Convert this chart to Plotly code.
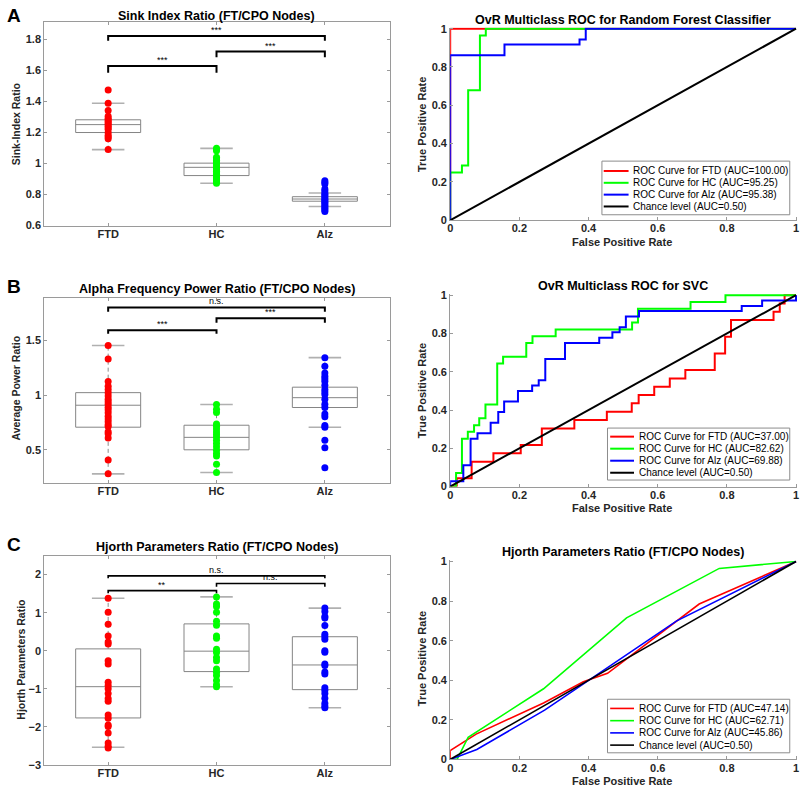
import plotly.graph_objects as go

W, H = 800, 795
FONT = "Liberation Sans, Arial, Helvetica, sans-serif"

# ---------------- data ----------------
categories = ["FTD", "HC", "Alz"]
cat_pos = [1, 2, 3]
group_colors = ["#ff0000", "#00ff00", "#0000ff"]
bracket_pairs = [(1, 2), (2, 3), (1, 3)]

# Panel A: Sink index ratio
sink_ftd = [1.472, 1.387, 1.341, 1.303, 1.29, 1.281, 1.27, 1.26, 1.25, 1.239, 1.228, 1.218,
            1.197, 1.18, 1.17, 1.159, 1.089]
sink_hc = [1.098, 1.09, 1.082, 1.04, 1.03, 1.02, 1.01, 1.0, 0.99, 0.98, 0.97, 0.96, 0.95, 0.94,
           0.93, 0.92, 0.91, 0.90, 0.89, 0.88, 0.873]
sink_alz = [0.888, 0.878, 0.868, 0.835, 0.825, 0.81, 0.80, 0.79, 0.78, 0.77, 0.76, 0.75, 0.74,
            0.73, 0.72, 0.71, 0.70, 0.69]
sink_q1 = [1.199, 0.922, 0.757]
sink_med = [1.25, 0.975, 0.771]
sink_q3 = [1.281, 1.002, 0.786]
sink_lo = [1.089, 0.873, 0.723]
sink_hi = [1.387, 1.097, 0.81]
sink_sig_y = [1.627, 1.72, 1.821]
sink_sig_tick = [1.584, 1.684, 1.789]
sink_sig_lbl = ["***", "***", "***"]

# Panel B: Alpha frequency power ratio
alpha_ftd = [1.455, 1.332, 1.124, 1.082, 1.052, 1.022, 0.992, 0.962, 0.94, 0.917, 0.89, 0.866,
             0.84, 0.806, 0.782, 0.757, 0.73, 0.713, 0.665, 0.647, 0.608, 0.406, 0.28]
alpha_hc = [0.914, 0.872, 0.842, 0.737, 0.716, 0.69, 0.662, 0.641, 0.617, 0.587, 0.557, 0.527,
            0.497, 0.467, 0.443, 0.368, 0.293]
alpha_alz = [1.343, 1.265, 1.202, 1.172, 1.15, 1.127, 1.091, 1.052, 1.03, 1.007, 0.962, 0.917,
             0.887, 0.827, 0.803, 0.722, 0.707, 0.587, 0.518, 0.335]
alpha_q1 = [0.707, 0.5, 0.887]
alpha_med = [0.908, 0.614, 0.977]
alpha_q3 = [1.023, 0.725, 1.073]
alpha_lo = [0.28, 0.293, 0.707]
alpha_hi = [1.455, 0.914, 1.343]
alpha_sig_y = [1.593, 1.704, 1.803]
alpha_sig_tick = [1.563, 1.662, 1.764]
alpha_sig_lbl = ["***", "***", "n.s."]

# Panel C: Hjorth parameters ratio
hjorth_ftd = [1.378, 1.008, 0.697, 0.386, 0.231, 0.179, -0.262, -0.348, -0.824, -0.909, -0.995,
              -1.124, -1.254, -1.324, -1.687, -1.772, -1.946, -1.989, -2.161, -2.42, -2.508, -2.55]
hjorth_hc = [1.414, 1.23, 1.16, 1.008, 0.775, 0.67, 0.386, 0.33, 0.041, -0.045, -0.175, -0.262,
             -0.478, -0.564, -0.65, -0.78, -0.89, -0.943]
hjorth_alz = [1.119, 1.03, 0.9, 0.86, 0.66, 0.43, 0.37, 0.30, 0.0, -0.04, -0.35, -0.39, -0.56,
              -0.61, -0.97, -1.04, -1.12, -1.25, -1.38, -1.45, -1.497]
hjorth_q1 = [-1.764, -0.547, -1.021]
hjorth_med = [-0.943, -0.011, -0.373]
hjorth_q3 = [0.049, 0.705, 0.368]
hjorth_lo = [-2.533, -0.943, -1.497]
hjorth_hi = [1.378, 1.414, 1.119]
hjorth_sig_y = [1.578, 1.767, 1.966]
hjorth_sig_tick = [1.51, 1.68, 1.90]
hjorth_sig_lbl = ["**", "n.s.", "n.s."]

# ROC: Random Forest
rf_ftd_fpr = [0, 0, 1]
rf_ftd_tpr = [0, 1, 1]
rf_hc_fpr = [0, 0, 0.034, 0.034, 0.052, 0.052, 0.086, 0.086, 0.103, 0.103, 1]
rf_hc_tpr = [0, 0.25, 0.25, 0.286, 0.286, 0.679, 0.679, 0.964, 0.964, 1, 1]
rf_alz_fpr = [0, 0, 0.157, 0.157, 0.374, 0.374, 0.392, 0.392, 1]
rf_alz_tpr = [0, 0.861, 0.861, 0.917, 0.917, 0.944, 0.944, 1, 1]
rf_labels = ["ROC Curve for FTD (AUC=100.00)", "ROC Curve for HC (AUC=95.25)",
             "ROC Curve for Alz (AUC=95.38)", "Chance level (AUC=0.50)"]

# ROC: SVC
svc_ftd_fpr = [0, 0.019, 0.019, 0.062, 0.062, 0.125, 0.125, 0.204, 0.204, 0.265, 0.265, 0.359,
               0.359, 0.453, 0.453, 0.525, 0.525, 0.545, 0.545, 0.59, 0.59, 0.635, 0.635, 0.68,
               0.68, 0.765, 0.765, 0.795, 0.795, 0.812, 0.812, 0.935, 0.935, 0.953, 0.953, 0.967,
               0.967, 1]
svc_ftd_tpr = [0, 0, 0.043, 0.043, 0.13, 0.13, 0.174, 0.174, 0.217, 0.217, 0.304, 0.304, 0.348,
               0.348, 0.391, 0.391, 0.435, 0.435, 0.478, 0.478, 0.522, 0.522, 0.565, 0.565, 0.609,
               0.609, 0.696, 0.696, 0.783, 0.783, 0.87, 0.87, 0.913, 0.913, 0.957, 0.957, 1, 1]
svc_hc_fpr = [0, 0.017, 0.017, 0.034, 0.034, 0.051, 0.051, 0.069, 0.069, 0.084, 0.084, 0.102,
              0.102, 0.136, 0.136, 0.153, 0.153, 0.22, 0.22, 0.238, 0.238, 0.305, 0.305, 0.526,
              0.526, 0.543, 0.543, 0.695, 0.695, 0.796, 0.796, 1]
svc_hc_tpr = [0, 0, 0.071, 0.071, 0.25, 0.25, 0.286, 0.286, 0.321, 0.321, 0.357, 0.357, 0.429,
              0.429, 0.643, 0.643, 0.679, 0.679, 0.75, 0.75, 0.786, 0.786, 0.821, 0.821, 0.857,
              0.857, 0.929, 0.929, 0.964, 0.964, 1, 1]
svc_alz_fpr = [0, 0, 0.038, 0.038, 0.059, 0.059, 0.079, 0.079, 0.117, 0.117, 0.139, 0.139, 0.156,
               0.156, 0.196, 0.196, 0.237, 0.237, 0.256, 0.256, 0.275, 0.275, 0.332, 0.332, 0.431,
               0.431, 0.469, 0.469, 0.49, 0.49, 0.508, 0.508, 0.546, 0.546, 0.843, 0.843, 0.902,
               0.902, 1, 1]
svc_alz_tpr = [0, 0.028, 0.028, 0.111, 0.111, 0.25, 0.25, 0.278, 0.278, 0.333, 0.333, 0.389,
               0.389, 0.444, 0.444, 0.5, 0.5, 0.528, 0.528, 0.556, 0.556, 0.667, 0.667, 0.75, 0.75,
               0.778, 0.778, 0.806, 0.806, 0.833, 0.833, 0.889, 0.889, 0.917, 0.917, 0.944, 0.944,
               0.972, 0.972, 1]
svc_labels = ["ROC Curve for FTD (AUC=37.00)", "ROC Curve for HC (AUC=82.62)",
              "ROC Curve for Alz (AUC=69.88)", "Chance level (AUC=0.50)"]

# ROC: Hjorth parameters
hj_ftd_fpr = [0, 0, 0.075, 0.27, 0.385, 0.455, 0.72, 1]
hj_ftd_tpr = [0, 0.045, 0.128, 0.285, 0.392, 0.435, 0.785, 1]
hj_hc_fpr = [0, 0.02, 0.052, 0.27, 0.51, 0.778, 1]
hj_hc_tpr = [0, 0, 0.112, 0.357, 0.715, 0.965, 1]
hj_alz_fpr = [0, 0.077, 0.273, 0.503, 0.655, 1]
hj_alz_tpr = [0, 0.05, 0.249, 0.523, 0.70, 1]
hj_labels = ["ROC Curve for FTD (AUC=47.14)", "ROC Curve for HC (AUC=62.71)",
             "ROC Curve for Alz (AUC=45.86)", "Chance level (AUC=0.50)"]

chance_fpr = [0, 1]
chance_tpr = [0, 1]
roc_colors = ["#ff0000", "#00ff00", "#0000ff", "#000000"]

# ---------------- helpers ----------------
def fx(p):
    return p / W


def fy(p):
    return 1 - p / H


fig = go.Figure()
annotations = []
shapes = []

GRAY = "#9a9a9a"
TICKC = "#262626"
BOXW = 0.6
CAPW = 0.3

box_panels = [
    dict(n=1, pts=[sink_ftd, sink_hc, sink_alz], q1=sink_q1, med=sink_med, q3=sink_q3,
         lo=sink_lo, hi=sink_hi, sy=sink_sig_y, st=sink_sig_tick, sl=sink_sig_lbl,
         dom=(17.3, 223.7), rng=[0.6, 1.91], dtick=0.2,
         title="Sink Index Ratio (FT/CPO Nodes)", ty=11, ylab="Sink-Index Ratio", yx=13,
         yc=121, letter="A", ly=11, width=2),
    dict(n=3, pts=[alpha_ftd, alpha_hc, alpha_alz], q1=alpha_q1, med=alpha_med, q3=alpha_q3,
         lo=alpha_lo, hi=alpha_hi, sy=alpha_sig_y, st=alpha_sig_tick, sl=alpha_sig_lbl,
         dom=(297, 484.3), rng=[0.2, 1.89], dtick=0.5,
         title="Alpha Frequency Power Ratio (FT/CPO Nodes)", ty=287.5, ylab="Average Power Ratio",
         yx=13, yc=388, letter="B", ly=285, width=2),
    dict(n=5, pts=[hjorth_ftd, hjorth_hc, hjorth_alz], q1=hjorth_q1, med=hjorth_med,
         q3=hjorth_q3, lo=hjorth_lo, hi=hjorth_hi, sy=hjorth_sig_y, st=hjorth_sig_tick,
         sl=hjorth_sig_lbl, dom=(559, 770.7), rng=[-3, 2.48], dtick=1,
         title="Hjorth Parameters Ratio (FT/CPO Nodes)", ty=550, ylab="Hjorth Parameters Ratio",
         yx=18, yc=664, letter="C", ly=547, width=1.6),
]

for p in box_panels:
    n = p["n"]
    xa = "x" if n == 1 else f"x{n}"
    ya = "y" if n == 1 else f"y{n}"
    # dashed whiskers (MATLAB style) drawn from the whisker-end values
    wx, wy, cx, cy = [], [], [], []
    for pos, q1, q3, lo, hi in zip(cat_pos, p["q1"], p["q3"], p["lo"], p["hi"]):
        wx += [pos, pos, None, pos, pos, None]
        wy += [q3, hi, None, lo, q1, None]
        cx += [pos - CAPW / 2, pos + CAPW / 2, None, pos - CAPW / 2, pos + CAPW / 2, None]
        cy += [hi, hi, None, lo, lo, None]
    fig.add_trace(go.Scatter(x=wx, y=wy, mode="lines",
                             line=dict(color="#8a8a8a", width=1, dash="4px,3px"),
                             xaxis=xa, yaxis=ya, showlegend=False, hoverinfo="skip"))
    fig.add_trace(go.Scatter(x=cx, y=cy, mode="lines",
                             line=dict(color="#b0b0b0", width=1.6),
                             xaxis=xa, yaxis=ya, showlegend=False, hoverinfo="skip"))
    # boxes (fences equal to the quartiles so plotly draws no whiskers of its own)
    fig.add_trace(go.Box(
        x=cat_pos, q1=p["q1"], median=p["med"], q3=p["q3"],
        lowerfence=p["q1"], upperfence=p["q3"], boxpoints=False,
        width=BOXW, whiskerwidth=0, fillcolor="rgba(0,0,0,0)",
        line=dict(color="#858585", width=1), xaxis=xa, yaxis=ya,
        showlegend=False, hoverinfo="skip"))
    for pos, vals, col in zip(cat_pos, p["pts"], group_colors):
        fig.add_trace(go.Scatter(
            x=[pos] * len(vals), y=vals, mode="markers",
            marker=dict(color=col, size=7, line=dict(width=0)),
            xaxis=xa, yaxis=ya, showlegend=False, hoverinfo="skip"))
    for (a, b), ytop, ytick, lbl in zip(bracket_pairs, p["sy"], p["st"], p["sl"]):
        fig.add_trace(go.Scatter(
            x=[a, a, b, b], y=[ytick, ytop, ytop, ytick], mode="lines",
            line=dict(color="black", width=p["width"]),
            xaxis=xa, yaxis=ya, showlegend=False, hoverinfo="skip"))
        annotations.append(dict(
            x=(a + b) / 2, y=ytop, xref=xa, yref=ya, text=lbl, showarrow=False,
            xanchor="center", yanchor="bottom", yshift=-1,
            font=dict(family=FONT, size=9, color="black")))
    axis_common = dict(showline=True, linecolor=GRAY, linewidth=1, mirror="ticks",
                       ticks="inside", ticklen=3, tickcolor=GRAY, showgrid=False,
                       zeroline=False,
                       tickfont=dict(family=FONT, size=11, color=TICKC, weight="bold"))
    fig.layout[("xaxis" if n == 1 else f"xaxis{n}")] = dict(
        domain=[fx(41.5), fx(389.3)], range=[0.41, 3.6], tickvals=cat_pos,
        ticktext=categories, anchor=ya, ticklabelstandoff=-2, **axis_common)
    fig.layout[("yaxis" if n == 1 else f"yaxis{n}")] = dict(
        domain=[fy(p["dom"][1]), fy(p["dom"][0])], range=p["rng"], dtick=p["dtick"],
        anchor=xa, **axis_common)
    annotations.append(dict(
        x=fx(215), y=fy(p["ty"]), xref="paper", yref="paper", text=p["title"],
        showarrow=False, xanchor="center", yanchor="middle",
        font=dict(family=FONT, size=12.5, color="black", weight="bold")))
    annotations.append(dict(
        x=fx(p["yx"]), y=fy(p["yc"]), xref="paper", yref="paper", text=p["ylab"],
        textangle=-90, showarrow=False, xanchor="center", yanchor="middle",
        font=dict(family=FONT, size=10.5, color=TICKC, weight="bold")))
    annotations.append(dict(
        x=fx(2), y=fy(p["ly"]), xref="paper", yref="paper", text=p["letter"],
        showarrow=False, xanchor="left", yanchor="middle",
        font=dict(family=FONT, size=19, color="black", weight="bold")))

roc_panels = [
    dict(n=2, curves=[(rf_ftd_fpr, rf_ftd_tpr), (rf_hc_fpr, rf_hc_tpr), (rf_alz_fpr, rf_alz_tpr),
                      (chance_fpr, chance_tpr)], labels=rf_labels, y0=218.3, y1=24,
         title="OvR Multiclass ROC for Random Forest Classifier", ty=15, yc=121.7,
         leg=(602.7, 158.3, 791.7, 212.7), rows=[168.3, 180.3, 192.3, 204.3],
         lx=(604.5, 629.5), tx=632, width=2),
    dict(n=4, curves=[(svc_ftd_fpr, svc_ftd_tpr), (svc_hc_fpr, svc_hc_tpr),
                      (svc_alz_fpr, svc_alz_tpr), (chance_fpr, chance_tpr)],
         labels=svc_labels, y0=488.3, y1=294.3,
         title="OvR Multiclass ROC for SVC", ty=285, yc=391.7,
         leg=(608.3, 429, 791.7, 481.7), rows=[437.7, 449.9, 462.1, 474.3],
         lx=(611, 635), tx=637.5, width=2),
    dict(n=6, curves=[(hj_ftd_fpr, hj_ftd_tpr), (hj_hc_fpr, hj_hc_tpr), (hj_alz_fpr, hj_alz_tpr),
                      (chance_fpr, chance_tpr)], labels=hj_labels, y0=765, y1=564.3,
         title="Hjorth Parameters Ratio (FT/CPO Nodes)", ty=555, yc=663.3,
         leg=(608.3, 704, 791.7, 758.3), rows=[713.3, 725.7, 738.1, 750.5],
         lx=(611, 635), tx=637.5, width=1.6),
]

for p in roc_panels:
    n = p["n"]
    xa, ya = f"x{n}", f"y{n}"
    for (fpr, tpr), col in zip(p["curves"], roc_colors):
        fig.add_trace(go.Scatter(
            x=fpr, y=tpr, mode="lines", line=dict(color=col, width=p["width"]),
            xaxis=xa, yaxis=ya, showlegend=False, hoverinfo="skip"))
    axis_common = dict(showline=True, linecolor=GRAY, linewidth=1, mirror=False,
                       ticks="inside", ticklen=3, tickcolor=GRAY, showgrid=False,
                       zeroline=False, tickvals=[0, 0.2, 0.4, 0.6, 0.8, 1],
                       ticktext=["0", "0.2", "0.4", "0.6", "0.8", "1"],
                       ticklabeloverflow="allow",
                       tickfont=dict(family=FONT, size=11, color=TICKC, weight="bold"))
    span = p["y0"] - p["y1"]
    fig.layout[f"xaxis{n}"] = dict(domain=[fx(450), fx(450 + 348 * 1.004)], range=[0, 1.004],
                                   anchor=ya, ticklabelstandoff=-2, **axis_common)
    fig.layout[f"yaxis{n}"] = dict(domain=[fy(p["y0"]), fy(p["y0"] - span * 1.006)],
                                   range=[0, 1.006], anchor=xa, **axis_common)
    annotations.append(dict(
        x=fx(624), y=fy(p["ty"]), xref="paper", yref="paper", text=p["title"],
        showarrow=False, xanchor="center", yanchor="middle",
        font=dict(family=FONT, size=12.5, color="black", weight="bold")))
    annotations.append(dict(
        x=fx(623), y=fy(p["y0"] + 22), xref="paper", yref="paper", text="False Positive Rate",
        showarrow=False, xanchor="center", yanchor="middle",
        font=dict(family=FONT, size=11, color=TICKC, weight="bold")))
    annotations.append(dict(
        x=fx(421.7), y=fy(p["yc"]), xref="paper", yref="paper", text="True Positive Rate",
        textangle=-90, showarrow=False, xanchor="center", yanchor="middle",
        font=dict(family=FONT, size=11, color=TICKC, weight="bold")))
    # legend box
    l, t, r, b = p["leg"]
    shapes.append(dict(type="rect", xref="paper", yref="paper", x0=fx(l), x1=fx(r),
                       y0=fy(b), y1=fy(t), fillcolor="white",
                       line=dict(color="#8c8c8c", width=1), layer="above"))
    for row, col, lbl in zip(p["rows"], roc_colors, p["labels"]):
        shapes.append(dict(type="line", xref="paper", yref="paper", x0=fx(p["lx"][0]),
                           x1=fx(p["lx"][1]), y0=fy(row), y1=fy(row),
                           line=dict(color=col, width=p["width"]), layer="above"))
        annotations.append(dict(
            x=fx(p["tx"]), y=fy(row), xref="paper", yref="paper", text=lbl,
            showarrow=False, xanchor="left", yanchor="middle",
            font=dict(family=FONT, size=10, color="#000000")))

fig.update_layout(
    width=W, height=H, margin=dict(l=0, r=0, t=0, b=0),
    paper_bgcolor="white", plot_bgcolor="white",
    annotations=annotations, shapes=shapes, showlegend=False,
    font=dict(family=FONT),
)

fig.write_html(
    "out.html",
    post_script="document.body.style.margin='0px';document.body.style.overflow='hidden';",
)
